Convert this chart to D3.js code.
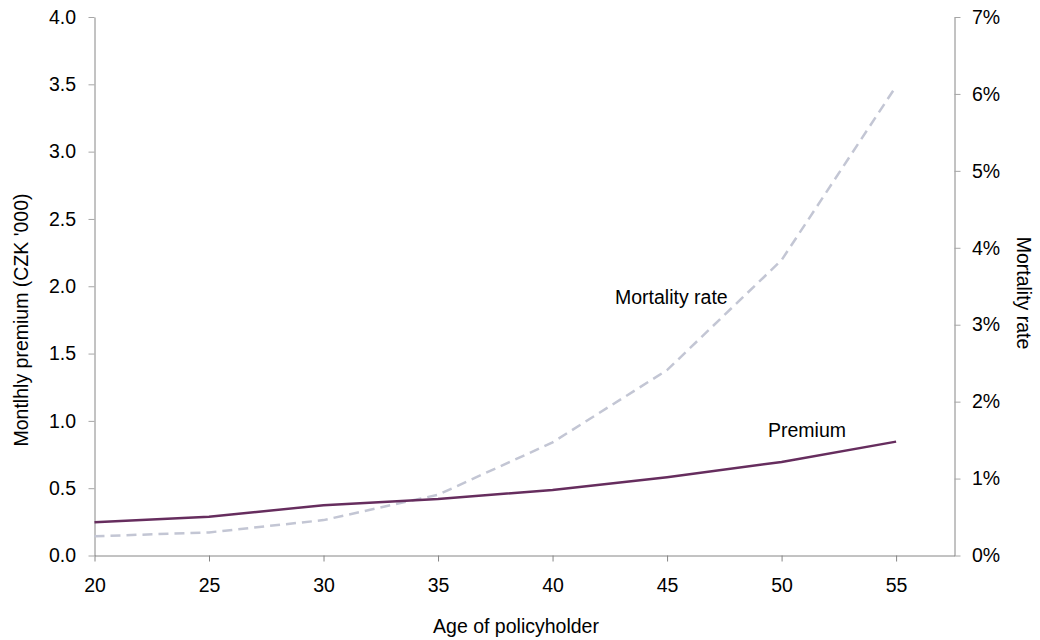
<!DOCTYPE html>
<html><head><meta charset="utf-8">
<script src="https://cdn.jsdelivr.net/npm/d3@7"></script>
<style>body{margin:0;background:#fff}text{font-family:"Liberation Sans",Arial,sans-serif;fill:#000}</style>
</head><body>
<svg id="c" width="1040" height="640"></svg>
<script>
const ages = [20, 25, 30, 35, 40, 45, 50, 55];
const premium = [0.247, 0.287, 0.374, 0.42, 0.487, 0.582, 0.695, 0.846];
const mortality = [0.0025, 0.0030, 0.0046, 0.0079, 0.0147, 0.0241, 0.0384, 0.0610];
const leftTicks = [0, 0.5, 1.0, 1.5, 2.0, 2.5, 3.0, 3.5, 4.0];
const rightTicks = [0, 0.01, 0.02, 0.03, 0.04, 0.05, 0.06, 0.07];
const xTicks = [20, 25, 30, 35, 40, 45, 50, 55];

const FS = "19.5px";
const svg = d3.select("#c");
const L = 94.5, R = 954.5, T = 17, B = 555.5;
const x = d3.scaleLinear().domain([20, 57.55]).range([L, R]);
const yL = d3.scaleLinear().domain([0, 4]).range([B, T]);
const yR = d3.scaleLinear().domain([0, 0.07]).range([B, T]);

function styleAxis(g){
  g.select(".domain").attr("stroke","#868686").attr("stroke-width",1);
  g.selectAll(".tick line").attr("stroke","#a6a6a6");
  g.selectAll(".tick text").attr("font-size",FS).attr("font-family","'Liberation Sans',Arial,sans-serif").attr("fill","#000");
}
svg.append("g").attr("transform",`translate(${L},0)`)
  .call(d3.axisLeft(yL).tickValues(leftTicks).tickFormat(d3.format(".1f")).tickSize(6).tickPadding(12.5).tickSizeOuter(0))
  .call(styleAxis);
svg.append("g").attr("transform",`translate(${R},0)`)
  .call(d3.axisRight(yR).tickValues(rightTicks).tickFormat(d3.format(".0%")).tickSize(6).tickPadding(11.5).tickSizeOuter(0))
  .call(styleAxis);
svg.append("g").attr("transform",`translate(0,${B})`)
  .call(d3.axisBottom(x).tickValues(xTicks).tickFormat(d3.format("d")).tickSize(6).tickPadding(16.5).tickSizeOuter(0))
  .call(styleAxis)
  .call(g=>g.selectAll(".tick line").attr("stroke","#868686"));

svg.append("path").datum(mortality.map((v,i)=>[ages[i],v]))
  .attr("fill","none").attr("stroke","#c3c6d4").attr("stroke-width",2.5).attr("stroke-dasharray","10,6")
  .attr("d", d3.line().x(d=>x(d[0])).y(d=>yR(d[1])));
svg.append("path").datum(premium.map((v,i)=>[ages[i],v]))
  .attr("fill","none").attr("stroke","#662d5e").attr("stroke-width",2.5)
  .attr("d", d3.line().x(d=>x(d[0])).y(d=>yL(d[1])));

svg.append("text").attr("x",615).attr("y",304).attr("font-size",FS).text("Mortality rate");
svg.append("text").attr("x",768).attr("y",437).attr("font-size",FS).text("Premium");

svg.append("text").attr("transform",`translate(28,320) rotate(-90)`).attr("text-anchor","middle").attr("font-size",FS).text("Montlhly premium (CZK '000)");
svg.append("text").attr("transform",`translate(1017,293) rotate(90)`).attr("text-anchor","middle").attr("font-size",FS).text("Mortality rate");
svg.append("text").attr("x",516).attr("y",633).attr("text-anchor","middle").attr("font-size",FS).text("Age of policyholder");
</script>
</body></html>
